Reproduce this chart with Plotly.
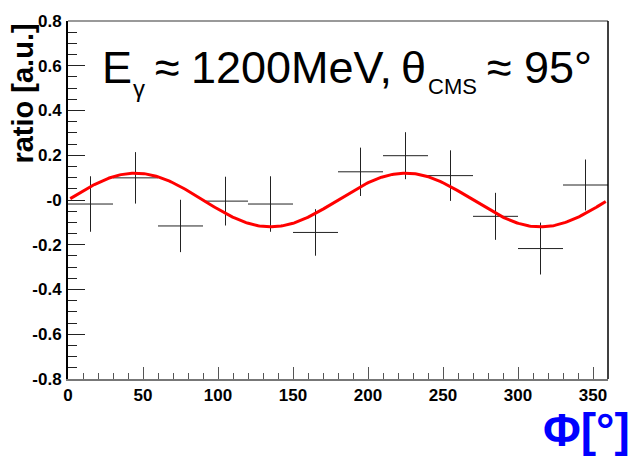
import numpy as np
import plotly.graph_objects as go

# Measured azimuthal ratio per 30-degree bin
phi_bins = [15, 45, 75, 105, 135, 165, 195, 225, 255, 285, 315, 345]
phi_halfwidth = [15] * 12
ratio = [-0.018, 0.099, -0.116, -0.005, -0.018, -0.145, 0.126, 0.198, 0.109, -0.073, -0.217, 0.067]
ratio_err = [0.124, 0.115, 0.117, 0.109, 0.124, 0.104, 0.108, 0.105, 0.113, 0.105, 0.116, 0.114]

# Fit result: A * sin(2*phi)
fit_amplitude = 0.12
fit_range = (1.5, 358.5)

y_tickvals = [-0.8, -0.6, -0.4, -0.2, 0.0, 0.2, 0.4, 0.6, 0.8]
y_ticktext = ["-0.8", "-0.6", "-0.4", "-0.2", "-0", "0.2", "0.4", "0.6", "0.8"]
x_tickvals = [0, 50, 100, 150, 200, 250, 300, 350]

FONT = "Liberation Sans, Arial, sans-serif"

W, H = 632, 456
L, R, T, B = 68, 24, 14, 77
pw, ph = W - L - R, H - T - B


def px(x):
    return (x - L) / pw


def py(y):
    return (H - B - y) / ph


phi_fit = np.linspace(fit_range[0], fit_range[1], 400)
ratio_fit = fit_amplitude * np.sin(np.radians(2 * phi_fit))

fig = go.Figure()
fig.add_trace(go.Scatter(
    x=phi_bins, y=ratio, mode="markers",
    marker=dict(size=1, color="rgba(0,0,0,0)"),
    error_x=dict(type="data", array=phi_halfwidth, width=0, thickness=1, color="#222"),
    error_y=dict(type="data", array=ratio_err, width=0, thickness=1, color="#222"),
    showlegend=False, hoverinfo="skip",
))
fig.add_trace(go.Scatter(
    x=phi_fit, y=ratio_fit, mode="lines",
    line=dict(color="#ff0000", width=3),
    showlegend=False, hoverinfo="skip",
))

# Kinematics label, laid out piece by piece (symbol, subscript, ...)
main = dict(family=FONT, size=45, color="black")
label_pieces = [
    ("E", 100.4, 61, main),
    ("γ", 131, 83, dict(family=FONT, size=24, color="black")),
    ("≈", 152.6, 61, main),
    ("1200MeV,", 189.1, 61, main),
    ("θ", 399, 61, main),
    ("CMS", 426, 81, dict(family=FONT, size=22, color="black")),
    ("≈", 484.6, 61, main),
    ("95°", 522.1, 61, main),
]
ann = [dict(text=t, x=px(xp), y=py(yp), font=f, xref="paper", yref="paper",
            xanchor="left", yanchor="middle", showarrow=False)
       for t, xp, yp, f in label_pieces]

# axis titles
ann.append(dict(text="<b>Φ[°]</b>", x=px(632), y=py(431), xref="paper", yref="paper",
                xanchor="right", yanchor="middle", showarrow=False,
                font=dict(family=FONT, size=46, color="#0000ff")))
ann.append(dict(text="<b>ratio [a.u.]</b>", x=px(23), y=py(88), xref="paper", yref="paper",
                xanchor="center", yanchor="middle", showarrow=False, textangle=-90,
                font=dict(family=FONT, size=29, color="black")))

fig.update_layout(
    width=W, height=H,
    margin=dict(l=L, r=R, t=T, b=B, pad=0),
    paper_bgcolor="white", plot_bgcolor="white",
    annotations=ann,
    shapes=[
        dict(type="line", xref="paper", yref="paper", x0=0, x1=1, y0=1, y1=1,
             line=dict(color="#777", width=1.5)),
        dict(type="line", xref="paper", yref="paper", x0=1, x1=1, y0=0, y1=1,
             line=dict(color="black", width=1.5)),
    ],
    xaxis=dict(
        range=[0, 360], showgrid=False, zeroline=False,
        showline=True, linecolor="#777", linewidth=2,
        ticks="inside", ticklen=12, tickwidth=1, tickcolor="#555",
        tickvals=x_tickvals,
        tickfont=dict(family=FONT, size=17, color="black", weight="bold"),
        minor=dict(ticks="inside", ticklen=6, tickwidth=1, tickcolor="#555", dtick=10, showgrid=False),
    ),
    yaxis=dict(
        range=[-0.8, 0.8], showgrid=False, zeroline=False,
        showline=True, linecolor="black", linewidth=2,
        ticks="inside", ticklen=17, tickwidth=1, tickcolor="#222",
        tickvals=y_tickvals, ticktext=y_ticktext,
        tickfont=dict(family=FONT, size=17, color="black", weight="bold"),
        ticklabelstandoff=1,
        minor=dict(ticks="inside", ticklen=9, tickwidth=1, tickcolor="#222", dtick=0.05, showgrid=False),
    ),
)

fig.write_html("out.html")
